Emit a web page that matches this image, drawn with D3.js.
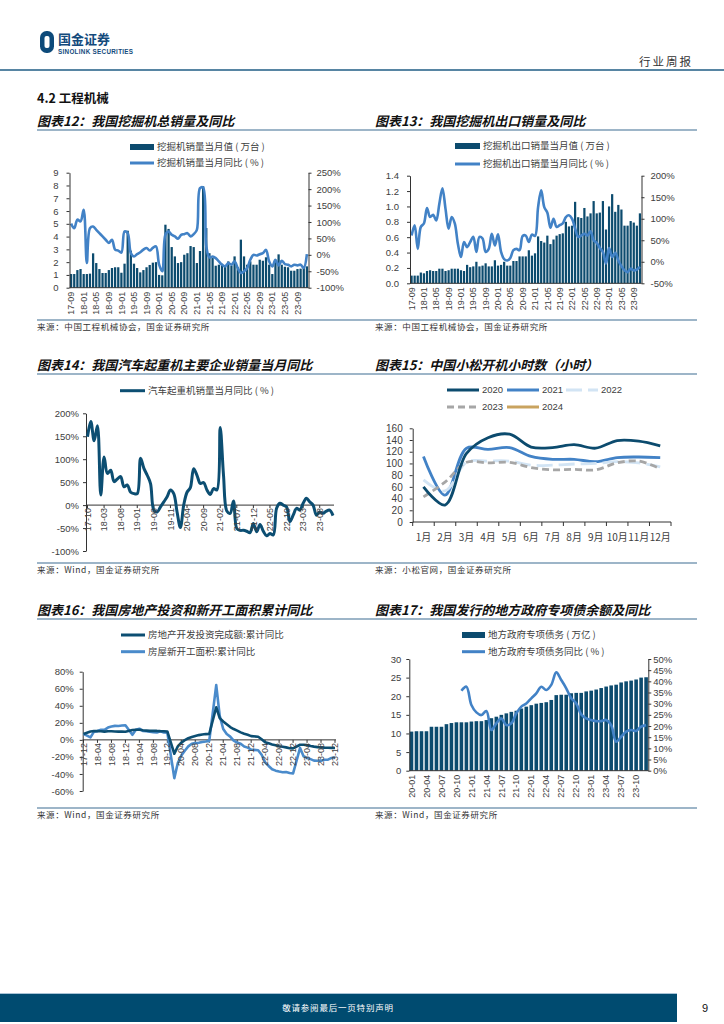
<!DOCTYPE html>
<html>
<head>
<meta charset="utf-8">
<script src="https://cdn.jsdelivr.net/npm/d3@7"></script>
<style>
  body { margin: 0; background: #fff; }
</style>
</head>
<body>
<script>
/* DATA */
const fmtMonth = d3.timeFormat("%y-%m");
const monthsFrom = (y, m, n) => d3.timeMonth.range(new Date(y, m - 1, 1), new Date(y, m - 1 + n, 1)).map(fmtMonth);

// 图表12 挖掘机总销量
const excMonths = monthsFrom(2017, 9, 76);
const excSales = [1.07,1.07,1.38,1.46,1.07,1.07,1.10,2.69,1.93,1.46,
  1.15,1.15,1.38,1.54,1.60,1.60,1.17,1.88,4.46,2.90,
  1.88,1.54,1.20,1.38,1.60,1.78,1.96,2.00,1.00,0.97,
  4.93,4.60,3.18,2.45,1.93,2.00,2.58,2.70,3.26,3.18,
  1.93,2.87,7.94,4.67,2.70,2.32,1.72,1.80,1.88,1.62,
  2.06,1.72,2.45,1.62,3.76,2.45,1.80,2.06,1.80,1.80,
  2.19,2.11,2.38,1.80,1.07,2.14,2.61,1.80,1.64,1.60,
  1.33,1.33,1.46,1.49,1.60,1.67];
const excYoy = [95,81,107,102,137,-25,81,86,76,66,
  56,46,36,46,16,13,7,71,66,5,
  -5,2,8,16,21,13,21,26,-30,-50,
  61,71,61,56,49,61,63,66,56,63,
  76,203,205,26,-8,-5,-10,-20,-30,-35,
  -25,-30,-20,-40,-55,-50,-40,-15,0,-2,
  2,5,15,-20,-35,-15,-32,-18,-28,-30,
  -35,-30,-32,-30,-40,2];
const excTicks = ["17-09","18-01","18-05","18-09","19-01","19-05","19-09","20-01","20-05","20-09",
  "21-01","21-05","21-09","22-01","22-05","22-09","23-01","23-05","23-09"];

// 图表13 挖掘机出口销量
const expMonths = monthsFrom(2017, 9, 75);
const expSales = [0.10,0.10,0.10,0.14,0.13,0.16,0.17,0.16,0.16,0.19,
  0.19,0.16,0.17,0.19,0.19,0.19,0.17,0.16,0.24,0.21,
  0.22,0.28,0.22,0.23,0.26,0.22,0.22,0.30,0.23,0.24,
  0.28,0.23,0.23,0.29,0.29,0.35,0.35,0.35,0.43,0.36,
  0.39,0.61,0.55,0.53,0.62,0.51,0.57,0.62,0.64,0.65,
  0.80,0.74,0.75,1.06,0.86,0.85,0.98,0.87,0.91,1.07,
  0.91,0.92,1.07,0.70,1.00,1.16,0.93,1.02,0.96,0.75,
  0.75,0.81,0.79,0.75,0.91];
const expYoy = [61,85,30,81,89,125,104,109,96,135,
  171,123,77,104,89,42,11,46,34,46,
  58,23,58,54,23,30,65,38,64,23,
  6,3,9,27,30,27,60,61,46,63,
  60,127,166,127,114,79,100,81,85,89,
  104,108,100,77,58,61,65,61,71,50,
  44,32,23,-4,32,11,21,3,-10,-20,
  -24,-16,-20,-18,-12];

// 图表14 汽车起重机
const craneMonths = monthsFrom(2017, 10, 75);
const craneYoy = [149,182,140,173,22,105,69,76,51,57,
  62,40,44,28,25,25,102,80,65,47,
  -11,-15,-4,7,18,33,25,-15,-49,0,
  28,38,79,65,47,49,33,23,36,33,
  169,65,-13,-18,9,-51,-55,-55,-57,-60,
  -40,-58,-42,-57,-67,-62,-65,-7,4,0,
  -4,-36,-22,-7,-11,4,15,7,0,-22,
  -15,-18,-13,-11,-23];
const craneTicks = ["17-10","18-03","18-08","19-01","19-06","19-11","20-04","20-09","21-02",
  "21-07","21-12","22-05","22-10","23-03","23-08"];

// 图表15 小松开机小时数
const kmMonths = ["1月","2月","3月","4月","5月","6月","7月","8月","9月","10月","11月","12月"];
const km2020 = [60,29,117,144,150,128,127,132,126,139,138,130];
const km2021 = [112,46,126,124,127,112,107,107,103,110,111,110];
const km2022 = [72,53,102,104,104,97,97,99,100,103,101,94];
const km2023 = [43,68,102,101,102,93,89,90,89,101,104,91];
const km2024 = [];

// 图表16 房地产投资 / 新开工 (1月无数据)
const reMonths = monthsFrom(2017, 12, 73);
const reInvest = [7.0,
  null,9.9,10.4,10.3,10.2,9.7,10.2,10.1,9.9,9.7,9.7,9.5,
  null,11.6,11.8,11.9,11.2,10.9,10.6,10.5,10.5,10.3,10.2,9.9,
  null,-16.3,-7.7,-3.3,-0.3,1.9,3.4,4.6,5.6,6.3,6.8,7.0,
  null,38.3,25.6,21.6,18.3,15.0,12.7,10.9,8.8,7.2,6.0,4.4,
  null,3.7,0.7,-2.7,-4.0,-5.4,-6.4,-7.4,-8.0,-8.8,-9.8,-10.0,
  null,-5.7,-5.8,-6.2,-7.2,-7.9,-8.5,-8.8,-9.1,-9.3,-9.4,-9.6];
const reStarts = [7.0,
  null,2.9,9.7,10.3,11.8,11.8,14.4,15.6,16.4,16.3,16.8,17.2,
  null,6.0,11.9,13.1,10.5,10.1,9.5,8.9,8.6,10.0,8.6,8.5,
  null,-44.9,-27.2,-18.4,-12.8,-7.6,-4.5,-3.6,-3.4,-2.5,-2.0,-1.2,
  null,64.3,28.2,12.8,6.9,3.8,-0.9,-3.2,-4.5,-7.7,-9.1,-11.4,
  null,-12.2,-17.5,-26.3,-30.6,-34.4,-36.1,-37.2,-38.0,-37.8,-38.9,-39.4,
  null,-9.4,-19.2,-21.2,-22.6,-24.3,-24.5,-24.4,-23.4,-23.2,-21.2,-20.4];
const reTicks = ["17-12","18-04","18-08","18-12","19-04","19-08","19-12","20-04","20-08","20-12",
  "21-04","21-08","21-12","22-04","22-08","22-12","23-04","23-08","23-12"];

// 图表17 专项债余额
const bondMonths = monthsFrom(2020, 1, 48);
const bondBalance = [10.5,10.6,10.6,10.6,11.8,11.8,11.8,12.5,12.8,13.0,13.0,13.0,
  13.2,13.3,13.3,13.6,14.1,14.5,15.0,15.4,15.8,16.1,16.7,17.2,
  17.6,18.0,18.2,18.4,19.0,20.3,20.4,20.4,20.8,20.9,20.9,21.3,
  21.5,21.8,22.2,22.6,22.9,23.1,23.7,24.0,24.2,24.5,25.0,25.1];
const bondYoy = [null,null,null,null,null,null,null,null,null,null,35.8,37.6,
  29.4,26.1,24.9,26.7,18.2,21.2,23.4,20.4,21.2,25.7,28.7,30.1,
  32.4,34.6,37.6,36.1,38.4,44.0,40.6,36.9,32.4,30.1,25.2,23.4,
  22.7,22.2,22.2,22.7,20.4,13.0,15.2,17.5,18.2,17.8,19.7,20.4];
const bondTicks = ["20-01","20-04","20-07","20-10","21-01","21-04","21-07","21-10","22-01","22-04",
  "22-07","22-10","23-01","23-04","23-07","23-10"];

/* STYLE */
const NAVY = "#0c4b6e", BLUE = "#4282c6", RULE = "#7d9cb6", INK = "#404040";
const CN = '"Noto Sans CJK SC", sans-serif';
const NUM = '"Liberation Sans", Arial, sans-serif';
const smooth = d3.curveCatmullRom.alpha(0.5);

const svg = d3.select("body").append("svg")
  .attr("width", 724).attr("height", 1024)
  .style("background", "#fff");

/* HEADER */
svg.append("rect").attr("x", 40).attr("y", 31).attr("width", 14).attr("height", 22).attr("rx", 6.5).attr("fill", "#0d4a7a");
svg.append("rect").attr("x", 44.5).attr("y", 36).attr("width", 5).attr("height", 12).attr("rx", 2).attr("fill", "#fff");
svg.append("text").attr("x", 58).attr("y", 43.5).attr("font-family", CN).attr("font-weight", 700)
  .attr("font-size", 13).attr("fill", "#134a7c").text("国金证券");
svg.append("text").attr("x", 58).attr("y", 53.5).attr("font-family", NUM).attr("font-weight", 700)
  .attr("font-size", 6.3).attr("letter-spacing", 0.3).attr("fill", "#134a7c").text("SINOLINK SECURITIES");
svg.append("text").attr("x", 693).attr("y", 66).attr("text-anchor", "end").attr("font-family", CN)
  .attr("font-size", 11.5).attr("letter-spacing", 2).attr("fill", "#333").text("行业周报");
svg.append("line").attr("x1", 0).attr("x2", 724).attr("y1", 70).attr("y2", 70)
  .attr("stroke", "#1f5c84").attr("stroke-width", 1.5);
svg.append("text").attr("x", 37).attr("y", 103).attr("font-family", CN).attr("font-weight", 700)
  .attr("font-size", 12.5).attr("fill", "#111").text("4.2 工程机械");

/* TITLES, RULES, SOURCES */
const rows = [
  { title: 126, rule: 130, src: 320, left: "图表12：我国挖掘机总销量及同比", right: "图表13：我国挖掘机出口销量及同比",
    srcL: "来源：中国工程机械协会，国金证券研究所", srcR: "来源：中国工程机械协会，国金证券研究所" },
  { title: 370, rule: 374, src: 563, left: "图表14：我国汽车起重机主要企业销量当月同比", right: "图表15：中国小松开机小时数（小时）",
    srcL: "来源：Wind，国金证券研究所", srcR: "来源：小松官网，国金证券研究所" },
  { title: 615, rule: 619, src: 808, left: "图表16：我国房地产投资和新开工面积累计同比", right: "图表17：我国发行的地方政府专项债余额及同比",
    srcL: "来源：Wind，国金证券研究所", srcR: "来源：Wind，国金证券研究所" }
];
rows.forEach(r => {
  [[37, r.left], [375, r.right]].forEach(([x, t]) => {
    svg.append("text").attr("x", x).attr("y", r.title).attr("font-family", CN).attr("font-weight", 700)
      .attr("font-style", "italic").attr("font-size", 13).attr("fill", "#111").text(t);
  });
  [r.rule, r.src].forEach(y => svg.append("line").attr("x1", 37).attr("x2", 697).attr("y1", y).attr("y2", y)
    .attr("stroke", RULE).attr("stroke-width", 1.5));
  [[37, r.srcL], [375, r.srcR]].forEach(([x, t]) => {
    svg.append("text").attr("x", x).attr("y", r.src + 10).attr("font-family", CN)
      .attr("font-size", 8.5).attr("letter-spacing", 0.6).attr("fill", "#333").text(t);
  });
});

/* HELPERS */
function styleAxis(g, size) {
  g.attr("font-family", NUM).attr("font-size", size || 9.5);
  g.selectAll("text").attr("fill", INK);
  g.selectAll("path,line").attr("stroke", "#333");
}

function legend(items) {
  items.forEach(it => {
    if (it.kind === "bar") {
      svg.append("rect").attr("x", it.x).attr("y", it.y - 3).attr("width", it.w).attr("height", 6).attr("fill", it.color);
    } else {
      svg.append("line").attr("x1", it.x).attr("x2", it.x + it.w).attr("y1", it.y).attr("y2", it.y)
        .attr("stroke", it.color).attr("stroke-width", 3).attr("stroke-dasharray", it.dash || null);
    }
    svg.append("text").attr("x", it.x + it.w + 3).attr("y", it.y).attr("dy", "0.36em")
      .attr("font-family", it.num ? NUM : CN).attr("font-size", 9.5).attr("fill", INK).text(it.label);
  });
}

function rotatedLabels(g, ticks, xpos, y, size) {
  g.selectAll("text.xl").data(ticks).join("text")
    .attr("class", "xl")
    .attr("transform", d => `translate(${xpos(d)},${y}) rotate(-90)`)
    .attr("text-anchor", "end").attr("dy", "0.35em")
    .attr("font-family", NUM).attr("font-size", size).attr("fill", INK)
    .text(d => d);
}

function barLineChart(o) {
  const g = svg.append("g");
  const rowsData = o.cats.map((c, i) => ({ c, bar: o.bars[i], line: o.line[i] }));
  const x = d3.scaleBand().domain(o.cats).range([o.left, o.right]).paddingInner(0.28).paddingOuter(o.padOuter);
  const yL = d3.scaleLinear().domain(o.leftDomain).range([o.bottom, o.top]);
  const yR = d3.scaleLinear().domain(o.rightDomain).range([o.bottom, o.top]);
  const cx = c => x(c) + x.bandwidth() / 2;

  g.selectAll("rect").data(rowsData).join("rect")
    .attr("x", d => x(d.c)).attr("width", x.bandwidth())
    .attr("y", d => yL(d.bar)).attr("height", d => yL(0) - yL(d.bar))
    .attr("fill", NAVY);

  g.append("path")
    .datum(rowsData.filter(d => d.line != null))
    .attr("fill", "none").attr("stroke", BLUE).attr("stroke-width", 2.6).attr("stroke-linejoin", "round")
    .attr("d", d3.line().x(d => cx(d.c)).y(d => yR(d.line)).curve(smooth));

  const axL = g.append("g").attr("transform", `translate(${o.left},0)`)
    .call(d3.axisLeft(yL).tickValues(o.leftTicks).tickFormat(o.leftFmt).tickSize(3).tickSizeOuter(0).tickPadding(o.padL));
  styleAxis(axL);
  const axR = g.append("g").attr("transform", `translate(${o.right},0)`)
    .call(d3.axisRight(yR).tickValues(o.rightTicks).tickFormat(d => d + "%").tickSize(3).tickSizeOuter(0).tickPadding(o.padR));
  styleAxis(axR);
  axR.selectAll("text").attr("text-anchor", "start");
  g.append("line").attr("x1", o.left).attr("x2", o.right).attr("y1", o.bottom).attr("y2", o.bottom).attr("stroke", "#333");

  rotatedLabels(g, o.ticks, cx, o.bottom + 4, o.labelSize);
}

function zeroLineChart(o) {
  const g = svg.append("g");
  const x = d3.scalePoint().domain(o.cats).range([o.x0, o.x1]);
  const y = d3.scaleLinear().domain(o.domain).range([o.bottom, o.top]);

  const ax = g.append("g").attr("transform", `translate(${o.axisX},0)`)
    .call(d3.axisLeft(y).tickValues(o.yTicks).tickFormat(d => d + "%").tickSize(3).tickSizeOuter(0).tickPadding(o.padL));
  styleAxis(ax);

  g.append("line").attr("x1", o.axisX).attr("x2", o.zeroEnd).attr("y1", y(0)).attr("y2", y(0)).attr("stroke", "#333");
  g.selectAll("line.xt").data(o.ticks).join("line").attr("class", "xt")
    .attr("x1", d => x(d)).attr("x2", d => x(d)).attr("y1", y(0)).attr("y2", y(0) + 3).attr("stroke", "#333");

  o.series.forEach(s => {
    const pts = o.cats.map((c, i) => ({ c, v: s.values[i] })).filter(d => d.v != null);
    g.append("path").datum(pts)
      .attr("fill", "none").attr("stroke", s.color).attr("stroke-width", s.width).attr("stroke-linejoin", "round")
      .attr("d", d3.line().x(d => x(d.c)).y(d => y(d.v)).curve(s.curve));
  });

  rotatedLabels(g, o.ticks, d => x(d), y(0) + 3, o.labelSize);
}

/* 图表12 */
legend([
  { kind: "bar", x: 130, y: 147, w: 24, color: NAVY, label: "挖掘机销量当月值 ( 万台 )" },
  { kind: "line", x: 130, y: 163, w: 24, color: BLUE, label: "挖掘机销量当月同比 ( % )" }
]);
barLineChart({
  cats: excMonths, bars: excSales, line: excYoy, ticks: excTicks,
  left: 69.5, right: 308.5, top: 172.7, bottom: 287.7, padOuter: 0.15,
  leftDomain: [0, 9], leftTicks: d3.range(0, 10, 1), leftFmt: d3.format("d"), padL: 8,
  rightDomain: [-100, 250], rightTicks: d3.range(-100, 251, 50), padR: 5,
  labelSize: 9
});

/* 图表13 */
legend([
  { kind: "bar", x: 455, y: 146, w: 25, color: NAVY, label: "挖掘机出口销量当月值 ( 万台 )" },
  { kind: "line", x: 455, y: 164, w: 25, color: BLUE, label: "挖掘机出口销量当月同比 ( % )" }
]);
barLineChart({
  cats: expMonths, bars: expSales, line: expYoy, ticks: excTicks,
  left: 410, right: 641.5, top: 175.7, bottom: 283.3, padOuter: 0.15,
  leftDomain: [0, 1.4], leftTicks: d3.range(0, 1.41, 0.2), leftFmt: d3.format(".1f"), padL: 8,
  rightDomain: [-50, 200], rightTicks: d3.range(-50, 201, 50), padR: 6,
  labelSize: 9
});

/* 图表14 */
legend([{ kind: "line", x: 120, y: 390.7, w: 25, color: "#0c4e72", label: "汽车起重机销量当月同比 ( % )" }]);
zeroLineChart({
  cats: craneMonths, ticks: craneTicks,
  axisX: 86, x0: 87.5, x1: 333, zeroEnd: 334, top: 413.3, bottom: 551,
  domain: [-100, 200], yTicks: d3.range(-100, 201, 50), padL: 4, labelSize: 9,
  series: [{ values: craneYoy, color: "#0c4e72", width: 3, curve: smooth }]
});

/* 图表15 */
(function () {
  const g = svg.append("g");
  const left = 412.7, right = 671, top = 428.3, bottom = 522;
  const x = d3.scaleBand().domain(kmMonths).range([left, right]);
  const y = d3.scaleLinear().domain([0, 160]).range([bottom, top]);
  const cx = c => x(c) + x.bandwidth() / 2;

  const series = [
    { label: "2020", values: km2020, color: "#0c4b6e", dash: null },
    { label: "2021", values: km2021, color: "#4282c6", dash: null },
    { label: "2022", values: km2022, color: "#d2e4f4", dash: "16,6" },
    { label: "2023", values: km2023, color: "#a6a6a6", dash: "7,4" },
    { label: "2024", values: km2024, color: "#c9a35f", dash: null }
  ];
  const legendPos = [[447, 390], [507, 390], [566, 390], [447, 407], [507, 407]];
  legend(series.map((s, i) => ({ kind: "line", x: legendPos[i][0], y: legendPos[i][1], w: 32,
    color: s.color, dash: s.dash, label: s.label, num: true })));

  const ax = g.append("g").attr("transform", `translate(${left},0)`)
    .call(d3.axisLeft(y).tickValues(d3.range(0, 161, 20)).tickSize(3).tickSizeOuter(0).tickPadding(7));
  styleAxis(ax, 10);
  g.append("line").attr("x1", left).attr("x2", right).attr("y1", bottom).attr("y2", bottom).attr("stroke", "#333");
  g.selectAll("line.xt").data(d3.range(0, kmMonths.length + 1)).join("line").attr("class", "xt")
    .attr("x1", i => left + i * x.step()).attr("x2", i => left + i * x.step())
    .attr("y1", bottom).attr("y2", bottom + 4).attr("stroke", "#333");
  g.selectAll("text.xl").data(kmMonths).join("text").attr("class", "xl")
    .attr("x", d => cx(d)).attr("y", 540.5).attr("text-anchor", "middle")
    .attr("font-family", CN).attr("font-size", 10).attr("fill", INK).text(d => d);

  series.forEach(s => {
    if (!s.values.length) return;
    g.append("path").attr("class", "km").datum(kmMonths.map((c, i) => ({ c, v: s.values[i] })))
      .attr("fill", "none").attr("stroke", s.color).attr("stroke-width", 2.8)
      .attr("stroke-dasharray", s.dash)
      .attr("d", d3.line().x(d => cx(d.c)).y(d => y(d.v)).curve(smooth));
  });
  // 2020 drawn on top
  g.selectAll("path.km").filter((d, i) => i === 0).raise();
})();

/* 图表16 */
legend([
  { kind: "line", x: 121, y: 635, w: 24, color: "#0c4e72", label: "房地产开发投资完成额:累计同比" },
  { kind: "line", x: 121, y: 651.7, w: 24, color: "#4a8bcb", label: "房屋新开工面积:累计同比" }
]);
zeroLineChart({
  cats: reMonths, ticks: reTicks,
  axisX: 82.7, x0: 83.5, x1: 335, zeroEnd: 336, top: 671.7, bottom: 791,
  domain: [-60, 80], yTicks: d3.range(-60, 81, 20), padL: 6, labelSize: 9,
  series: [
    { values: reStarts, color: "#4a8bcb", width: 2.6, curve: d3.curveLinear },
    { values: reInvest, color: "#0c4e72", width: 2.6, curve: d3.curveLinear }
  ]
});

/* 图表17 */
legend([
  { kind: "bar", x: 462, y: 635, w: 23, color: NAVY, label: "地方政府专项债务 ( 万亿 )" },
  { kind: "line", x: 462, y: 651.7, w: 23, color: BLUE, label: "地方政府专项债务同比 ( % )" }
]);
barLineChart({
  cats: bondMonths, bars: bondBalance, line: bondYoy, ticks: bondTicks,
  left: 409.3, right: 648.3, top: 659, bottom: 770.7, padOuter: 0.08,
  leftDomain: [0, 30], leftTicks: d3.range(0, 31, 5), leftFmt: d3.format("d"), padL: 5,
  rightDomain: [0, 50], rightTicks: d3.range(0, 51, 5), padR: 2,
  labelSize: 9
});

/* FOOTER */
svg.append("rect").attr("x", 0).attr("y", 993.5).attr("width", 677).attr("height", 28.5).attr("fill", "#004b70");
svg.append("line").attr("x1", 0).attr("x2", 677).attr("y1", 993.5).attr("y2", 993.5).attr("stroke", "#a9c3d6").attr("stroke-width", 1);
svg.append("text").attr("x", 338).attr("y", 1008).attr("dy", "0.35em").attr("text-anchor", "middle")
  .attr("font-family", CN).attr("font-size", 8.5).attr("letter-spacing", 0.8).attr("fill", "#fff").text("敬请参阅最后一页特别声明");
svg.append("text").attr("x", 705).attr("y", 1008).attr("dy", "0.35em").attr("text-anchor", "middle")
  .attr("font-family", NUM).attr("font-size", 11).attr("fill", "#111").text("9");
</script>
</body>
</html>
